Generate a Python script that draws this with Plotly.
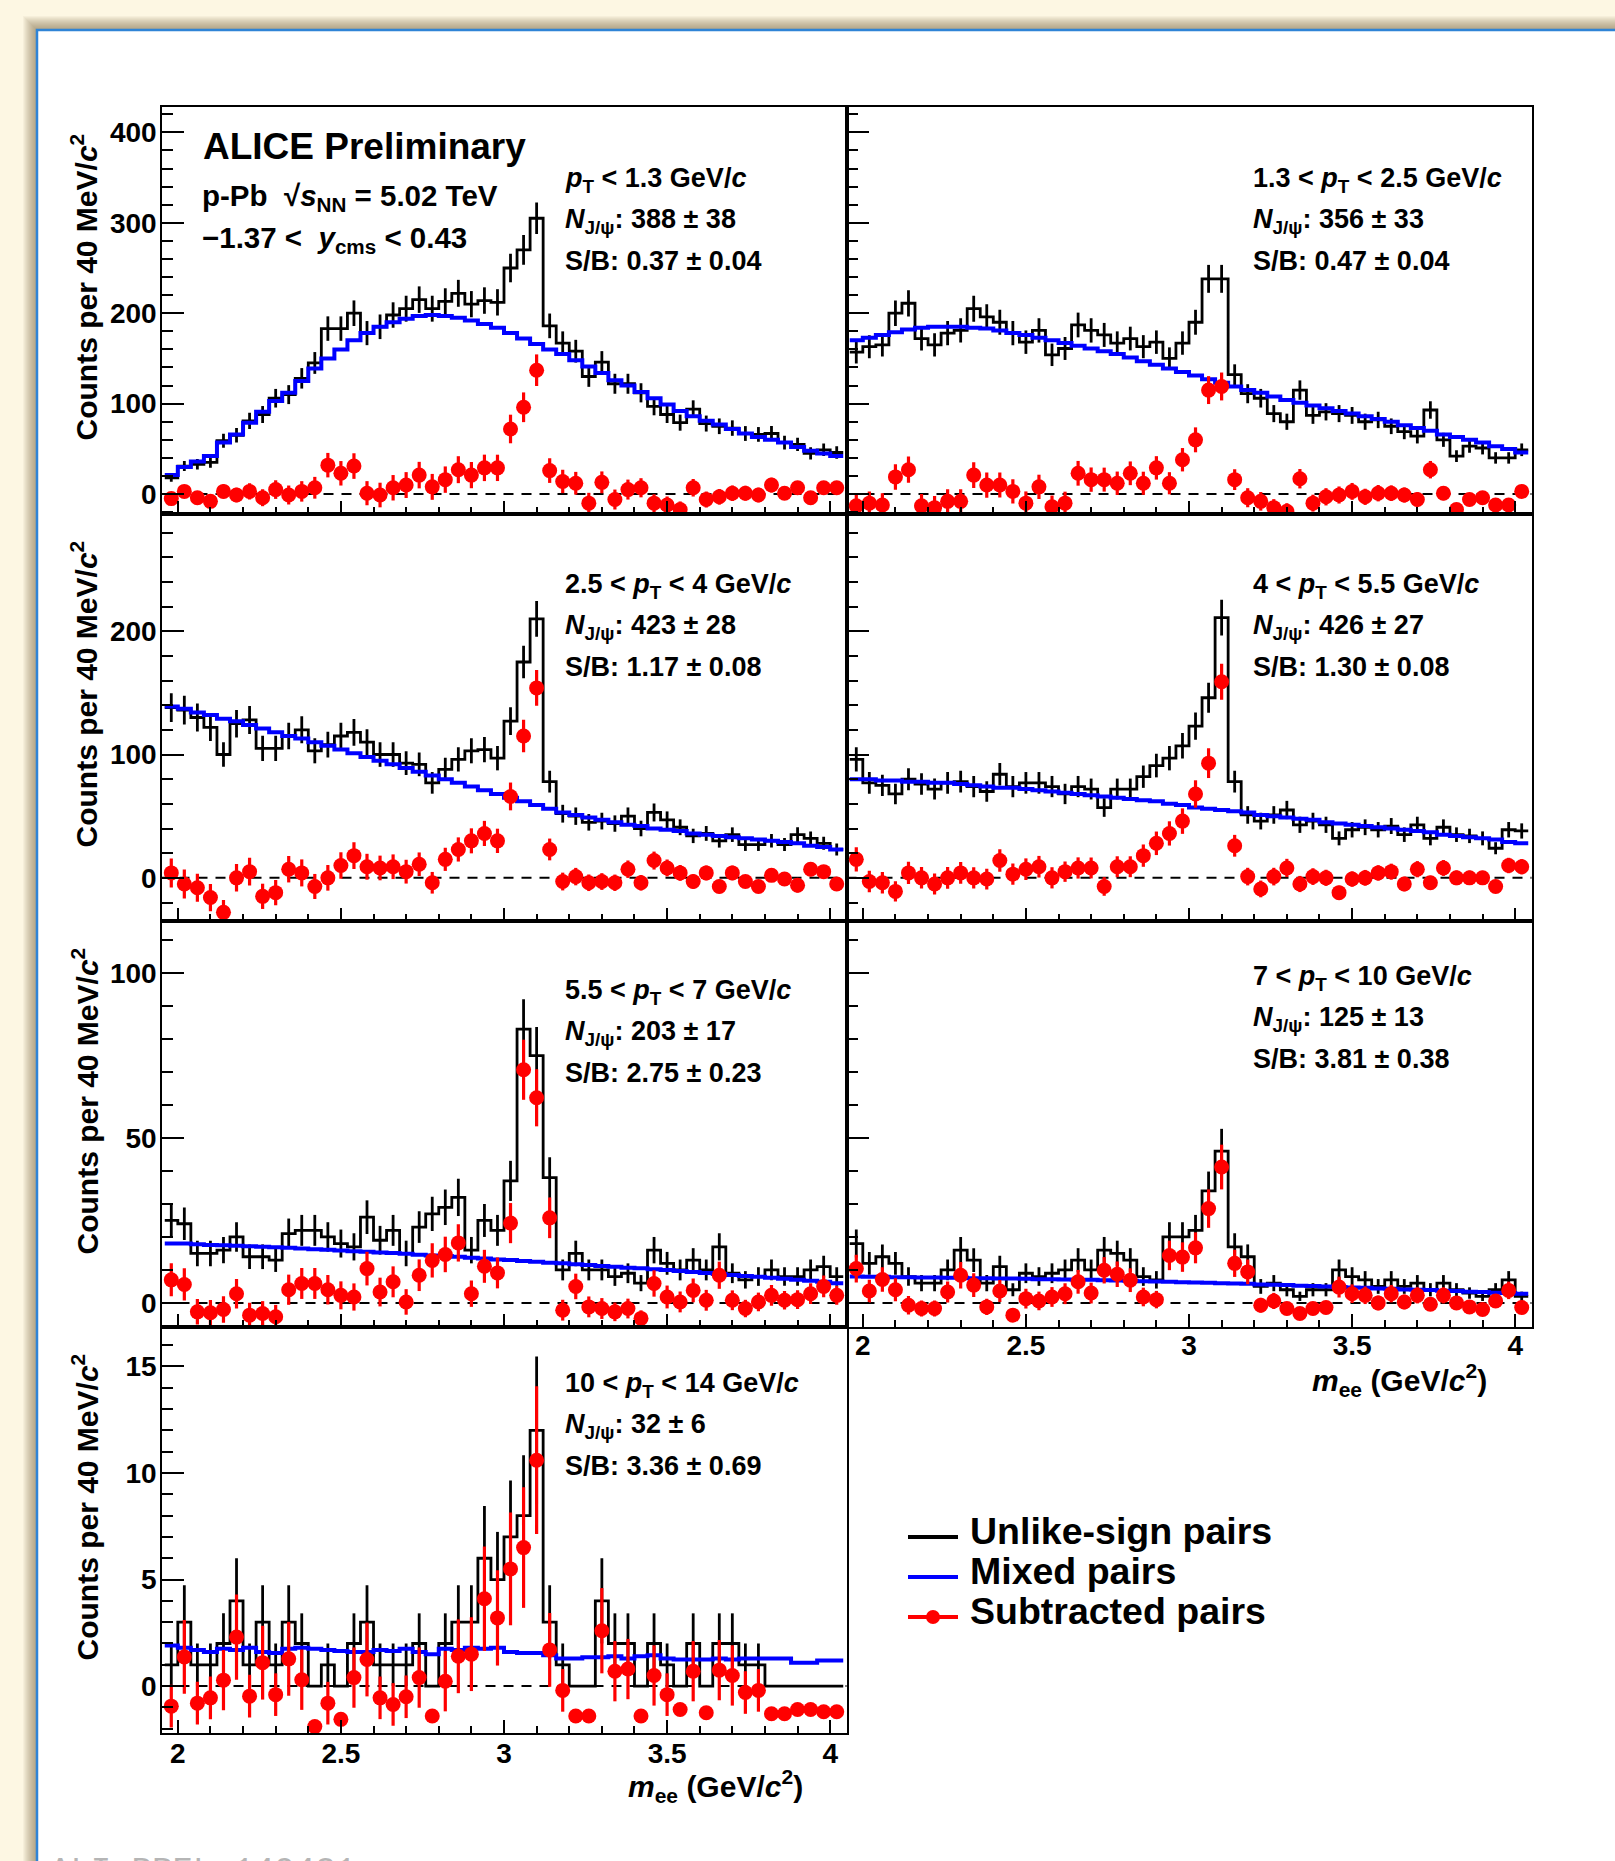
import numpy as np
import plotly.graph_objects as go

# ---------------- data ----------------
BIN_LOW = 1.96
BIN_WIDTH = 0.04
N_BINS = 52
mass_edges = BIN_LOW + BIN_WIDTH * np.arange(N_BINS + 1)
mass_centers = 0.5 * (mass_edges[:-1] + mass_edges[1:])

pt_bins = ["<i>p</i><sub>T</sub> &lt; 1.3 GeV/<i>c</i>",
           "1.3 &lt; <i>p</i><sub>T</sub> &lt; 2.5 GeV/<i>c</i>",
           "2.5 &lt; <i>p</i><sub>T</sub> &lt; 4 GeV/<i>c</i>",
           "4 &lt; <i>p</i><sub>T</sub> &lt; 5.5 GeV/<i>c</i>",
           "5.5 &lt; <i>p</i><sub>T</sub> &lt; 7 GeV/<i>c</i>",
           "7 &lt; <i>p</i><sub>T</sub> &lt; 10 GeV/<i>c</i>",
           "10 &lt; <i>p</i><sub>T</sub> &lt; 14 GeV/<i>c</i>"]
n_jpsi = ["388 ± 38", "356 ± 33", "423 ± 28", "426 ± 27", "203 ± 17", "125 ± 13", "32 ± 6"]
s_over_b = ["0.37 ± 0.04", "0.47 ± 0.04", "1.17 ± 0.08", "1.30 ± 0.08",
            "2.75 ± 0.23", "3.81 ± 0.38", "3.36 ± 0.69"]

unlike_1 = [18, 31, 33, 35, 59, 65, 81, 88, 106, 110,
            128, 145, 183, 183, 200, 178, 185, 198, 205, 215,
            205, 213, 222, 210, 214, 212, 250, 270, 305, 186,
            167, 158, 130, 146, 122, 122, 112, 97, 88, 79,
            94, 78, 75, 73, 67, 66, 67, 57, 55, 45,
            49, 46]
mixed_1 = [21, 30, 36, 42, 57, 66, 79, 91, 103, 112,
           125, 139, 150, 160, 170, 178, 185, 190, 194, 197,
           198, 197, 195, 192, 188, 184, 178, 172, 166, 160,
           155, 148, 141, 134, 126, 120, 113, 106, 99, 92,
           86, 81, 77, 72, 67, 63, 60, 57, 52, 48,
           45, 42]
subtr_1 = [-5, 3, -4, -8, 3, -1, 3, -4, 5, -1,
           3, 7, 32, 23, 31, 1, -1, 7, 10, 21,
           8, 16, 27, 21, 29, 29, 72, 96, 137, 26,
           14, 12, -10, 13, -6, 5, 7, -10, -12, -17,
           7, -6, -3, 1, 1, -1, 10, 1, 7, -4,
           7, 7]

unlike_2 = [157, 163, 165, 200, 211, 172, 165, 178, 181, 205,
            196, 190, 178, 168, 181, 154, 161, 187, 181, 176,
            167, 172, 163, 168, 150, 167, 190, 238, 238, 132,
            111, 106, 89, 80, 115, 87, 91, 89, 87, 80,
            82, 75, 69, 64, 93, 60, 42, 53, 51, 40,
            40, 49]
mixed_2 = [170, 173, 176, 179, 182, 184, 185, 185, 185, 184,
           183, 181, 178, 176, 173, 170, 167, 164, 161, 158,
           155, 151, 147, 143, 139, 135, 131, 127, 123, 119,
           115, 112, 108, 104, 101, 98, 95, 92, 89, 86,
           83, 80, 76, 73, 70, 66, 63, 60, 57, 53,
           50, 46]
subtr_2 = [-13, -10, -12, 19, 27, -13, -15, -8, -8, 21,
           10, 10, 3, -10, 8, -14, -10, 23, 16, 16,
           12, 23, 12, 29, 12, 38, 60, 115, 119, 16,
           -4, -8, -15, -19, 17, -10, -3, -1, 3, -3,
           1, 1, -1, -6, 27, 1, -17, -6, -4, -12,
           -12, 3]

unlike_3 = [138, 136, 130, 122, 100, 125, 128, 105, 105, 115,
            120, 103, 108, 115, 118, 110, 100, 100, 93, 92,
            77, 88, 96, 103, 104, 97, 127, 175, 210, 78,
            52, 50, 45, 46, 44, 50, 40, 53, 47, 41,
            34, 36, 30, 35, 27, 27, 30, 27, 35, 32,
            28, 23]
mixed_3 = [139, 137, 134, 132, 129, 127, 124, 121, 118, 115,
           113, 110, 107, 104, 101, 98, 95, 92, 89, 86,
           83, 80, 77, 74, 71, 68, 65, 62, 59, 56,
           53, 51, 49, 47, 45, 43, 42, 40, 39, 38,
           36, 35, 34, 33, 32, 31, 30, 29, 28, 26,
           25, 23]
subtr_3 = [4, -5, -8, -16, -28, 0, 5, -15, -12, 7,
           4, -7, 0, 10, 18, 9, 8, 9, 5, 11,
           -4, 15, 23, 30, 36, 30, 66, 115, 154, 23,
           -3, 1, -4, -3, -4, 7, -4, 14, 8, 4,
           -3, 4, -7, 4, -3, -7, 2, -1, -6, 7,
           5, -5]

unlike_4 = [96, 77, 75, 68, 80, 76, 72, 77, 78, 74,
            70, 84, 74, 77, 77, 74, 68, 74, 72, 57,
            72, 72, 82, 91, 97, 107, 123, 146, 211, 78,
            51, 46, 51, 55, 43, 46, 43, 32, 39, 41,
            39, 42, 35, 43, 32, 41, 35, 34, 32, 24,
            39, 38]
mixed_4 = [80, 80, 79, 79, 78, 78, 77, 77, 76, 75,
           74, 73, 73, 72, 71, 70, 69, 68, 67, 66,
           65, 64, 63, 62, 60, 59, 57, 56, 55, 54,
           53, 51, 50, 49, 48, 47, 45, 44, 43, 42,
           41, 40, 39, 38, 37, 35, 34, 33, 32, 31,
           29, 28]
subtr_4 = [15, -3, -4, -11, 4, 0, -5, 0, 4, 0,
           -1, 14, 3, 7, 9, 0, 5, 8, 8, -7,
           9, 9, 18, 28, 36, 46, 68, 93, 159, 26,
           1, -9, 1, 8, -5, 1, 0, -12, -1, 0,
           4, 5, -5, 7, -4, 8, 0, 0, 0, -7,
           10, 9]

unlike_5 = [25, 24, 15, 15, 16, 20, 14, 14, 13, 21,
            22, 22, 20, 18, 17, 26, 19, 22, 15, 23,
            27, 29, 32, 16, 25, 22, 37, 83, 75, 38,
            10, 15, 10, 10, 8, 9, 6, 16, 12, 10,
            13, 10, 17, 9, 7, 8, 10, 8, 8, 10,
            11, 8]
mixed_5 = [18, 18, 17.8, 17.6, 17.5, 17.3, 17.2, 17, 16.9, 16.7,
           16.5, 16.3, 16.1, 15.9, 15.7, 15.5, 15.3, 15.1, 14.9, 14.6,
           14.4, 14.2, 14, 13.7, 13.5, 13.2, 13, 12.7, 12.5, 12.2,
           12, 11.7, 11.5, 11.2, 11, 10.7, 10.5, 10.2, 10, 9.7,
           9.4, 9.1, 8.8, 8.5, 8.2, 7.9, 7.6, 7.3, 7, 6.7,
           6.4, 6]
subtr_5 = [7, 5.6, -2.7, -3, -2, 2.8, -3.7, -3.2, -4.2, 4,
           5.9, 5.9, 4, 2.3, 1.8, 10.4, 3.3, 6.4, 0.3, 8.4,
           12.9, 14.7, 18.2, 2.8, 11.1, 9.1, 24.2, 70.7, 62.2, 25.8,
           -2.2, 5, -1.2, -1.7, -2.7, -1.7, -4.7, 5.9, 1.8, 0.3,
           3.8, 0.8, 8.4, 0.8, -1.7, 0.3, 2.3, 0.8, 1, 2.8,
           5, 2.3]

unlike_6 = [18, 12, 14, 12, 8, 6, 6, 10, 16, 13,
            6, 11, 4, 9, 8, 9, 10, 13, 10, 16,
            15, 13, 8, 7, 20, 20, 22, 34, 46, 17,
            14, 5, 6, 4, 2, 4, 4, 10, 8, 7,
            5, 7, 5, 6, 4, 6, 4, 3, 2, 4,
            7, 2]
mixed_6 = [8, 7.9, 7.9, 7.8, 7.8, 7.7, 7.7, 7.6, 7.6, 7.5,
           7.5, 7.4, 7.4, 7.3, 7.2, 7.2, 7.1, 7, 7, 6.9,
           6.8, 6.7, 6.6, 6.5, 6.4, 6.3, 6.2, 6.1, 6, 5.9,
           5.8, 5.6, 5.5, 5.4, 5.2, 5.1, 5, 4.8, 4.7, 4.6,
           4.4, 4.3, 4.1, 4, 3.9, 3.7, 3.6, 3.4, 3.3, 3.1,
           3, 2.8]
subtr_6 = [10.4, 3.6, 7.1, 4, -0.7, -1.7, -1.7, 3.3, 8.4, 5.4,
           -1.2, 3.6, -3.7, 1.3, 0.6, 1.8, 2.8, 6.4, 3, 9.9,
           8.7, 6.9, 1.8, 1, 14.4, 13.9, 16.7, 28.6, 41.2, 12,
           9.4, -0.7, 0.6, -1.7, -3.2, -1.7, -1.4, 4.8, 2.8, 2.3,
           0, 2.8, 0.3, 2.3, -0.4, 2.3, 0, -1.2, -2, 0.6,
           3.8, -1.4]

unlike_7 = [1, 3, 1, 1, 2, 4, 1, 3, 1, 3,
            2, 0, 1, 0, 2, 3, 1, 1, 1, 2,
            0, 2, 3, 3, 6, 5, 7, 8, 12, 3,
            1, 0, 0, 4, 2, 2, 0, 2, 1, 0,
            2, 0, 2, 2, 1, 1, 0, 0, 0, 0,
            0, 0]
mixed_7 = [1.9, 1.8, 1.7, 1.6, 1.75, 1.7, 1.8, 1.6, 1.55, 1.75,
           1.8, 1.75, 1.7, 1.65, 1.6, 1.6, 1.7, 1.65, 1.75, 1.6,
           1.5, 1.75, 1.7, 1.8, 1.75, 1.8, 1.6, 1.55, 1.55, 1.45,
           1.3, 1.3, 1.35, 1.35, 1.4, 1.3, 1.4, 1.45, 1.3, 1.25,
           1.25, 1.25, 1.3, 1.25, 1.3, 1.3, 1.3, 1.3, 1.1, 1.1,
           1.2, 1.2]
subtr_7 = [-0.94, 1.37, -0.8, -0.55, 0.28, 2.3, -0.47, 1.1, -0.4, 1.28,
           0.3, -1.9, -0.8, -1.56, 0.4, 1.25, -0.55, -0.86, -0.5, 0.4,
           -1.4, 0.23, 1.4, 1.5, 4.1, 3.2, 5.5, 6.5, 10.6, 1.7,
           -0.2, -1.4, -1.4, 2.6, 0.7, 0.8, -1.4, 0.5, -0.4, -1.1,
           0.7, -1.25, 0.75, 0.5, -0.3, -0.2, -1.3, -1.3, -1.1, -1.1,
           -1.2, -1.2]

unlike = [unlike_1, unlike_2, unlike_3, unlike_4, unlike_5, unlike_6, unlike_7]
mixed = [mixed_1, mixed_2, mixed_3, mixed_4, mixed_5, mixed_6, mixed_7]
subtr = [subtr_1, subtr_2, subtr_3, subtr_4, subtr_5, subtr_6, subtr_7]

# ---------------- layout geometry (pixels) ----------------
W, H = 1615, 1861
FONT = "Liberation Sans"
def px(x):
    return x / W
def py(y):
    return 1 - y / H

COL_X = [(161.5, 846.5), (846.5, 1531.5)]
ROW_Y = [(107, 514), (514, 921), (921, 1327), (1327, 1733)]
panels = [(0, 0), (1, 0), (0, 1), (1, 1), (0, 2), (1, 2), (0, 3)]
row_range = [[-22, 428], [-35, 295], [-7.3, 115.8], [-2.2, 16.85]]
row_dtick = [100, 100, 50, 5]
row_minor = [20, 20, 10, 1]
text_off = [73, 73, 72, 72, 71, 57, 58]
X_RANGE = [1.95, 4.05]

fig = go.Figure()
layout = dict(width=W, height=H, margin=dict(l=0, r=0, t=0, b=0),
              paper_bgcolor="#fdf7e3", plot_bgcolor="rgba(0,0,0,0)",
              showlegend=False)
shapes = []
annotations = []

# page frame with soft shadow
FX, FY = 37, 30
for d in range(14, 0, -1):
    shapes.append(dict(type="rect", xref="paper", yref="paper", layer="below",
                       x0=px(FX - d), x1=px(W + 40), y0=py(H + 40), y1=py(FY - d),
                       fillcolor="rgba(110,90,50,0.05)", line=dict(width=0)))
shapes.append(dict(type="rect", xref="paper", yref="paper", layer="below",
                   x0=px(FX), x1=px(W + 40), y0=py(H + 40), y1=py(FY),
                   fillcolor="white", line=dict(color="#2f84d6", width=2.5)))

tickfont = dict(family=FONT, size=28, color="black", weight="bold")

for i, (col, row) in enumerate(panels):
    n = i + 1
    xs = "" if n == 1 else str(n)
    x0, x1 = COL_X[col]
    y0, y1 = ROW_Y[row]
    layout["xaxis" + xs] = dict(
        domain=[px(x0), px(x1)], range=X_RANGE, anchor="y" + xs,
        showline=True, mirror=True, linecolor="black", linewidth=2.4,
        ticks="inside", ticklen=13, tickwidth=2, tickcolor="black",
        tick0=2, dtick=0.5,
        minor=dict(ticks="inside", ticklen=7, tickwidth=2, tickcolor="black", dtick=0.1),
        showgrid=False, zeroline=False, showticklabels=(n in (6, 7)),
        ticklabelstandoff=(-8 if n == 6 else -6),
        tickfont=tickfont)
    layout["yaxis" + xs] = dict(
        domain=[py(y1), py(y0)], range=row_range[row], anchor="x" + xs,
        showline=True, mirror=True, linecolor="black", linewidth=2.4,
        ticks="inside", ticklen=22, tickwidth=2, tickcolor="black",
        tick0=0, dtick=row_dtick[row],
        minor=dict(ticks="inside", ticklen=11, tickwidth=2, tickcolor="black",
                   dtick=row_minor[row]),
        showgrid=False, zeroline=False, showticklabels=(col == 0),
        ticklabelstandoff=-3,
        tickfont=tickfont)

    xa, ya = "x" + xs, "y" + xs
    # dashed zero line
    shapes.append(dict(type="line", xref=xa + " domain", yref=ya, x0=0, x1=1, y0=0, y1=0,
                       line=dict(color="black", width=2, dash="10px,8px"), layer="below"))

    u = np.array(unlike[i], dtype=float)
    m = np.array(mixed[i], dtype=float)
    s = np.array(subtr[i], dtype=float)
    err = np.sqrt(u)

    # unlike-sign histogram (step) + error bars
    fig.add_trace(go.Scatter(x=mass_edges, y=np.append(u, u[-1]), mode="lines",
                             line=dict(shape="hv", color="black", width=2.8),
                             xaxis=xa, yaxis=ya, hoverinfo="skip"))
    fig.add_trace(go.Scatter(x=mass_centers, y=u, mode="markers",
                             marker=dict(size=2, color="rgba(0,0,0,0)"),
                             error_y=dict(type="data", array=err, color="black",
                                          thickness=2.8, width=0),
                             xaxis=xa, yaxis=ya, hoverinfo="skip"))
    # mixed-event histogram
    fig.add_trace(go.Scatter(x=mass_edges, y=np.append(m, m[-1]), mode="lines",
                             line=dict(shape="hv", color="#0000ff", width=4),
                             xaxis=xa, yaxis=ya, hoverinfo="skip"))
    # subtracted points
    fig.add_trace(go.Scatter(x=mass_centers, y=s, mode="markers",
                             marker=dict(size=15, color="#ff0000", symbol="circle"),
                             error_y=dict(type="data", array=err, color="#ff0000",
                                          thickness=3.2, width=0),
                             xaxis=xa, yaxis=ya, hoverinfo="skip"))

    # panel texts
    tx = 562.5 if col == 0 else 1250.5
    ty = y0 + text_off[i]
    lines = [pt_bins[i], "<i>N</i><sub>J/ψ</sub>: " + n_jpsi[i], "S/B: " + s_over_b[i]]
    for k, t in enumerate(lines):
        annotations.append(dict(text=t, x=px(tx), y=py(ty + 40.5 * k), xref="paper", yref="paper",
                                xanchor="left", yanchor="middle", showarrow=False,
                                font=dict(family=FONT, size=27, color="black", weight="bold")))

# y-axis titles
for row in range(4):
    annotations.append(dict(text="Counts per 40 MeV/<i>c</i><sup>2</sup>", textangle=-90,
                            x=px(85), y=py(ROW_Y[row][0] + 25), xref="paper", yref="paper",
                            xanchor="center", yanchor="top", showarrow=False,
                            font=dict(family=FONT, size=30, color="black", weight="bold")))
# x-axis titles
for (xr, yc) in [(805, 1786), (1489, 1380)]:
    annotations.append(dict(text="<i>m</i><sub>ee</sub> (GeV/<i>c</i><sup>2</sup>)",
                            x=px(xr), y=py(yc), xref="paper", yref="paper",
                            xanchor="right", yanchor="middle", showarrow=False,
                            font=dict(family=FONT, size=30, color="black", weight="bold")))

# ALICE labels
annotations.append(dict(text="ALICE Preliminary", x=px(201), y=py(146), xref="paper", yref="paper",
                        xanchor="left", yanchor="middle", showarrow=False,
                        font=dict(family=FONT, size=37, color="black", weight="bold")))
annotations.append(dict(text="p-Pb  √<i>s</i><sub>NN</sub> = 5.02 TeV", x=px(200), y=py(198),
                        xref="paper", yref="paper", xanchor="left", yanchor="middle", showarrow=False,
                        font=dict(family=FONT, size=29.5, color="black", weight="bold")))
annotations.append(dict(text="−1.37 &lt;  <i>y</i><sub>cms</sub> &lt; 0.43", x=px(200), y=py(239),
                        xref="paper", yref="paper", xanchor="left", yanchor="middle", showarrow=False,
                        font=dict(family=FONT, size=29.5, color="black", weight="bold")))

# legend
leg_items = [("Unlike-sign pairs", "black", False),
             ("Mixed pairs", "#0000ff", False),
             ("Subtracted pairs", "#ff0000", True)]
for k, (lab, colr, dot) in enumerate(leg_items):
    yl = 1537 + 40 * k
    shapes.append(dict(type="line", xref="paper", yref="paper", x0=px(908), x1=px(958),
                       y0=py(yl), y1=py(yl), line=dict(color=colr, width=4)))
    if dot:
        shapes.append(dict(type="circle", xref="paper", yref="paper", x0=px(926), x1=px(940),
                           y0=py(yl + 7), y1=py(yl - 7), fillcolor=colr, line=dict(width=0)))
    annotations.append(dict(text=lab, x=px(968), y=py(yl - 6), xref="paper", yref="paper",
                            xanchor="left", yanchor="middle", showarrow=False,
                            font=dict(family=FONT, size=37.5, color="black", weight="bold")))

# preliminary id (cut by the page edge, as in the source)
annotations.append(dict(text="ALI-PREL-149421", x=px(48), y=py(1850), xref="paper", yref="paper",
                        xanchor="left", yanchor="top", showarrow=False,
                        font=dict(family="Liberation Mono", size=34, color="#b5b5b5")))

layout["shapes"] = shapes
layout["annotations"] = annotations
fig.update_layout(**layout)

fig.write_html("out.html", config={"displayModeBar": False},
               post_script="document.body.style.margin='0px';document.body.style.overflow='hidden';")
